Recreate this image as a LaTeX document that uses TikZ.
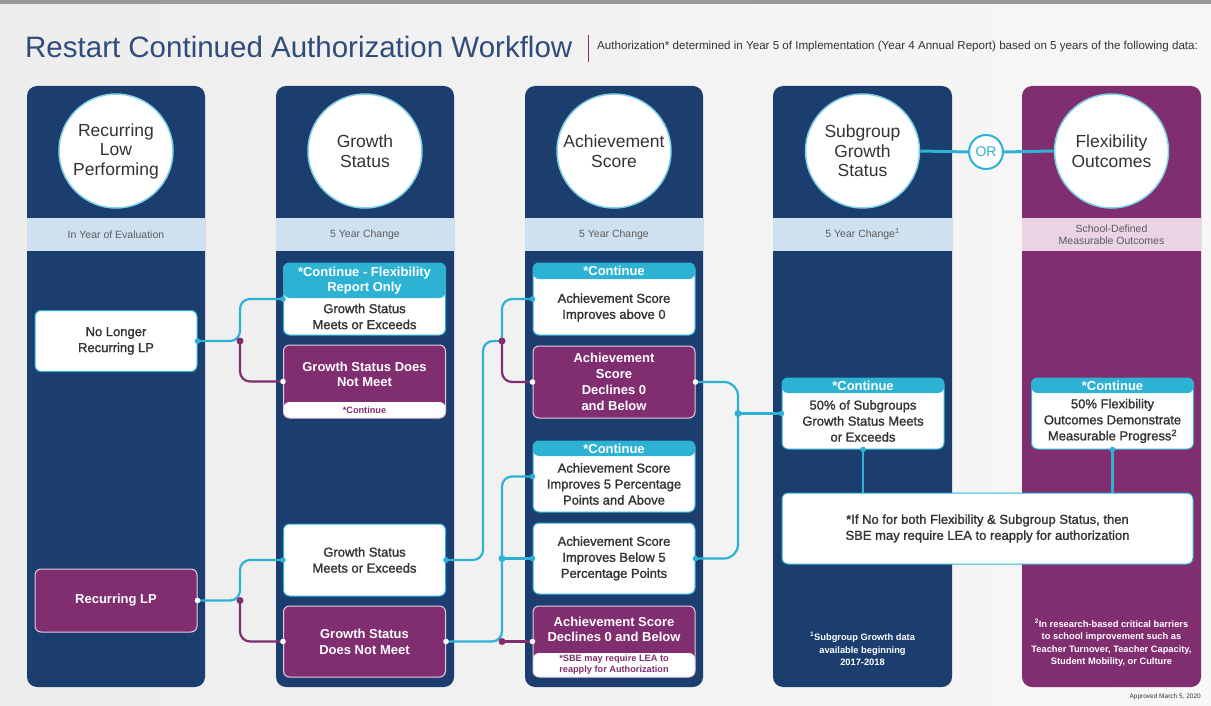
\documentclass[tikz,border=0pt]{standalone}
\usepackage{fontspec}
\setmainfont{Liberation Sans}
\newfontfamily\medfont[FakeBold=1.4]{Liberation Sans}
\usetikzlibrary{calc}
\definecolor{navyc}{HTML}{1B3E6F}
\definecolor{purpc}{HTML}{802E70}
\definecolor{cyanc}{HTML}{2DB2D3}
\definecolor{bandb}{HTML}{CFE0F1}
\definecolor{bandp}{HTML}{E9D3E4}
\definecolor{txtc}{HTML}{333333}
\definecolor{titlec}{HTML}{2F4C7C}
\definecolor{pinkline}{HTML}{E6CCDF}

\tikzset{
	bubble/.style={circle, fill=white, draw=cyanc!60, line width=1.5pt, minimum size=114pt, inner sep=0pt, align=center, text=txtc, font=\fontsize{17.5}{19.5}\selectfont},
	bandtext/.style={align=center, inner sep=0pt, text=txtc!80, font=\fontsize{10.5}{12}\selectfont},
	wbox/.style={rectangle, rounded corners=6pt, fill=white, draw=cyanc, line width=1pt, minimum width=162pt, minimum height=#1, align=center, inner sep=2pt, text=txtc, font=\medfont\fontsize{13}{16}\selectfont},
	pbox/.style={wbox=#1, fill=purpc, draw=pinkline, text=white, font=\bfseries\fontsize{13}{16}\selectfont},
	hdr/.style={path picture={\fill[cyanc] (path picture bounding box.north west) rectangle ([yshift=-#1]path picture bounding box.north east);}},
	strip/.style={path picture={\fill[white] ([yshift=#1]path picture bounding box.south west) rectangle (path picture bounding box.south east);}},
	hdrtext/.style={inner sep=0pt, align=center, text=white, font=\bfseries\fontsize{13}{15}\selectfont},
	bodytext/.style={inner sep=0pt, align=center, text=txtc, font=\medfont\fontsize{13}{16}\selectfont},
	striptext/.style={inner sep=0pt, align=center, text=purpc, font=\bfseries\fontsize{9.2}{11}\selectfont},
	foottext/.style={inner sep=0pt, align=center, text=white, font=\bfseries\fontsize{9.3}{12.5}\selectfont},
	cline/.style={cyanc, line width=2.2pt, rounded corners=10pt},
	pline/.style={purpc, line width=2.2pt, rounded corners=10pt}
}

\begin{document}
\begin{tikzpicture}[x=1pt,y=-1pt]
	\useasboundingbox (0,0) rectangle (1211,706);
	% background
	\shade[left color=black!7, right color=black!3] (0,0) rectangle (1211,706);
	\fill[black!40] (0,0) rectangle (1211,4);

	% title line
	\node[anchor=base west, inner sep=0pt, text=titlec, font=\fontsize{29.5}{30}\selectfont] (title) at (25,58) {Restart Continued Authorization Workflow};
	\draw[purpc, line width=1pt] (588,35) -- (588,62);
	\node[anchor=west, inner sep=0pt, text=txtc, font=\fontsize{11.6}{12}\selectfont] (subtitle) at (597,47) {Authorization* determined in Year 5 of Implementation (Year 4 Annual Report) based on 5 years of the following data:};

	% columns
	\fill[navyc, rounded corners=10pt] (27,86) rectangle (205,687);
	\fill[navyc, rounded corners=10pt] (276,86) rectangle (454,687);
	\fill[navyc, rounded corners=10pt] (525,86) rectangle (703,687);
	\fill[navyc, rounded corners=10pt] (773,86) rectangle (952,687);
	\fill[purpc, rounded corners=10pt] (1022,86) rectangle (1201,687);
	\fill[bandb] (27,218) rectangle (205,251);
	\fill[bandb] (276,218) rectangle (454,251);
	\fill[bandb] (525,218) rectangle (703,251);
	\fill[bandb] (773,218) rectangle (952,251);
	\fill[bandp] (1022,218) rectangle (1201,251);

	% circles and bands
	\node[bubble] (rlpc) at (116,151) {Recurring\\Low\\Performing};
	\node[bubble] (gsc) at (365,151) {Growth\\Status};
	\node[bubble] (asc) at (614,151) {Achievement\\Score};
	\node[bubble] (sgc) at (862.5,151) {Subgroup\\Growth\\Status};
	\node[bubble] (fxc) at (1111.5,151) {Flexibility\\Outcomes};
	\node[circle, fill=white, draw=cyanc, line width=2pt, minimum size=34pt, inner sep=0pt, text=cyanc, font=\fontsize{14}{14}\selectfont] (or) at (986,152) {OR};
	\draw[cyanc, line width=3pt] (sgc.east) -- (or.west);
	\draw[cyanc, line width=3pt] (or.east) -- (fxc.west);

	\node[bandtext] (band1) at (116,234.5) {In Year of Evaluation};
	\node[bandtext] (band2) at (365,234.5) {5 Year Change};
	\node[bandtext] (band3) at (614,234.5) {5 Year Change};
	\node[bandtext] (band4) at (862.5,234.5) {5 Year Change\textsuperscript{1}};
	\node[bandtext] (band5) at (1111.5,234.5) {School-Defined\\Measurable Outcomes};

	% Recurring Low Performing
	\node[wbox=61pt] (nolp) at (116,341) {No Longer\\Recurring LP};
	\node[pbox=63pt] (rlp) at (116,600.5) {Recurring LP};

	% Growth Status
	\node[wbox=72pt, hdr=35pt] (gsa) at (364.5,299) {};
	\node[hdrtext] (gsah) at (364.5,280.5) {*Continue - Flexibility\\Report Only};
	\node[bodytext] (gsat) at (364.5,316.5) {Growth Status\\Meets or Exceeds};
	\node[pbox=73pt, strip=16pt] (gsb) at (364.5,381.5) {};
	\node[hdrtext] (gsbt) at (364.5,374) {Growth Status Does\\Not Meet};
	\node[striptext] (gsbs) at (364.5,410) {*Continue};
	\node[wbox=72pt] (gsm) at (364.5,560) {Growth Status\\Meets or Exceeds};
	\node[pbox=71pt] (gsd) at (364.5,641.5) {Growth Status\\Does Not Meet};

	% Achievement Score
	\node[wbox=72pt, hdr=16pt] (asa) at (614,299) {};
	\node[hdrtext] (asah) at (614,271) {*Continue};
	\node[bodytext] (asat) at (614,307.5) {Achievement Score\\Improves above 0};
	\node[pbox=72pt] (asb) at (614,382) {Achievement\\Score\\Declines 0\\and Below};
	\node[wbox=71pt, hdr=15pt] (asm) at (614,476.5) {};
	\node[hdrtext] (asmh) at (614,448.5) {*Continue};
	\node[bodytext] (asmt) at (614,484) {Achievement Score\\Improves 5 Percentage\\Points and Above};
	\node[wbox=71pt] (asd) at (614,558.5) {Achievement Score\\Improves Below 5\\Percentage Points};
	\node[pbox=71pt, strip=24pt] (ase) at (614,641.5) {};
	\node[hdrtext] (aset) at (614,629.5) {Achievement Score\\Declines 0 and Below};
	\node[striptext] (ases) at (614,665) {*SBE may require LEA to\\reapply for Authorization};

	% Subgroup and Flexibility
	\node[wbox=71pt, hdr=15pt] (sga) at (863,413.5) {};
	\node[hdrtext] (sgah) at (863,385.5) {*Continue};
	\node[bodytext] (sgat) at (863,421) {50\% of Subgroups\\Growth Status Meets\\or Exceeds};
	\node[wbox=71pt, hdr=15pt] (fxa) at (1112.5,413.5) {};
	\node[hdrtext] (fxah) at (1112.5,385.5) {*Continue};
	\node[bodytext] (fxat) at (1112.5,421) {50\% Flexibility\\Outcomes Demonstrate\\Measurable Progress\textsuperscript{2}};
	\node[wbox=71pt, minimum width=411pt] (nob) at (987.5,528.5) {*If No for both Flexibility \& Subgroup Status, then\\SBE may require LEA to reapply for authorization};

	\node[foottext] (foot1) at (862.5,649) {\textsuperscript{1}Subgroup Growth data\\available beginning\\2017-2018};
	\node[foottext] (foot2) at (1111.5,643) {\textsuperscript{2}In research-based critical barriers\\to school improvement such as\\Teacher Turnover, Teacher Capacity,\\Student Mobility, or Culture};
	\node[anchor=east, inner sep=0pt, text=txtc, font=\fontsize{6.5}{7}\selectfont] (approved) at (1201,697) {Approved March 5, 2020};

	% connectors
	\coordinate (j1) at (240,341);
	\coordinate (j2) at (240,600.5);
	\coordinate (j3) at (502,341);
	\coordinate (j4) at (502,641.5);
	\coordinate (j5) at (502,558.5);
	\coordinate (j6) at (738,413.5);
	\draw[cline] (nolp.east) -- (j1) |- (gsa.west);
	\draw[pline] (j1) |- (gsb.west);
	\draw[cline] (rlp.east) -- (j2) |- (gsm.west);
	\draw[pline] (j2) |- (gsd.west);
	\draw[cline] (gsm.east) -- (483,560) -- (483,341) -- (j3);
	\draw[cline] (j3) |- (asa.west);
	\draw[pline] (j3) |- (asb.west);
	\draw[cline] (gsd.east) -- (j4) |- (asm.west);
	\draw[pline] (j4) -- (ase.west);
	\draw[cline] (j5) -- (asd.west);
	\draw[cline, rounded corners=14pt] (asb.east) -- (738,382) -- (738,558.5) -- (asd.east);
	\draw[cline] (j6) -- (sga.west);
	\draw[cline] (sga.south) -- (sga.south |- nob.north);
	\draw[cline] (fxa.south) -- (fxa.south |- nob.north);

	% junctions
	\fill[purpc] (j1) circle (3.5);
	\fill[purpc] (j2) circle (3.5);
	\fill[purpc] (j3) circle (3.5);
	\fill[purpc] (j4) circle (3.5);
	\fill[cyanc] (j5) circle (3.5);
	\fill[cyanc] (j6) circle (3.5);
	\foreach \p in {nolp.east, gsa.west, gsm.west, gsm.east, asa.west, asm.west, asd.west, asd.east, sga.west, sga.south, fxa.south}
		\fill[cyanc] (\p) circle (2.8);
	\foreach \p in {rlp.east, gsb.west, gsd.west, gsd.east, asb.west, asb.east, ase.west}
		\fill[white] (\p) circle (2.8);
\end{tikzpicture}
\end{document}
